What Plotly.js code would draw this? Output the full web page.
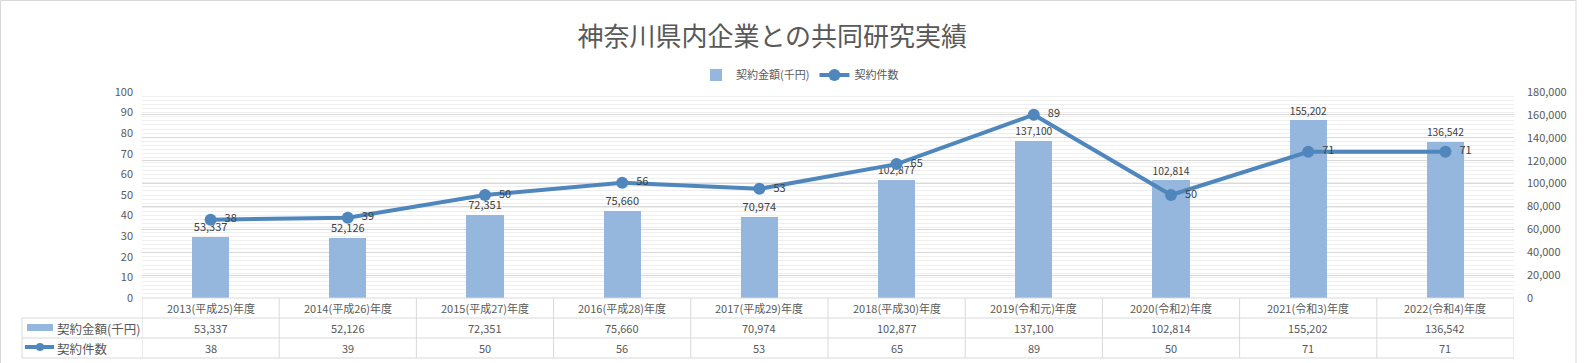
<!DOCTYPE html>
<html>
<head>
<meta charset="utf-8">
<script src="https://cdn.plot.ly/plotly-3.0.1.min.js"></script>
<style>html,body{margin:0;padding:0;background:#fff;}#chart{width:1589px;height:363px;}</style>
</head>
<body>
<div id="chart"></div>
<script>
var categories = ["2013(平成25)年度","2014(平成26)年度","2015(平成27)年度","2016(平成28)年度","2017(平成29)年度","2018(平成30)年度","2019(令和元)年度","2020(令和2)年度","2021(令和3)年度","2022(令和4)年度"];
var amountValues = [53337, 52126, 72351, 75660, 70974, 102877, 137100, 102814, 155202, 136542];
var countValues = [38, 39, 50, 56, 53, 65, 89, 50, 71, 71];
var amountName = "契約金額(千円)";
var countName = "契約件数";
var titleText = "神奈川県内企業との共同研究実績";

var FONT = "'Noto Sans CJK JP', 'Noto Sans', sans-serif";
var barColor = "#95b6dd";
var lineColor = "#4f87bd";
var gridColor = "#d9d9d9";
var textColor = "#404040";
var axisColor = "#595959";

function fmt(n){ return n.toLocaleString("en-US"); }

var idx = categories.map(function(_, i){ return i; });

var traces = [
  {
    type: "bar", name: amountName, x: idx, y: amountValues, yaxis: "y",
    marker: {color: barColor}, width: 0.27,
    text: amountValues.map(fmt), textposition: "outside", cliponaxis: false,
    textfont: {family: FONT, size: 11, color: textColor}
  },
  {
    type: "scatter", mode: "lines+markers+text", name: countName, x: idx, y: countValues, yaxis: "y2",
    line: {color: lineColor, width: 4}, marker: {color: lineColor, size: 12},
    text: countValues.map(function(v){ return "\u2002" + v; }), textposition: "middle right", cliponaxis: false,
    textfont: {family: FONT, size: 11, color: textColor}
  }
];

var L = 142, R = 1514, T = 92, B = 298;
function px(x){ return (x - L) / (R - L); }
function py(y){ return (B - y) / (B - T); }

var shapes = [];
var annotations = [];
var tableLine = {color: "#d9d9d9", width: 1};
shapes.push({type: "line", xref: "paper", yref: "paper", x0: 0, x1: 1, y0: py(298), y1: py(298), line: tableLine});
[318, 338, 358].forEach(function(yy){
  shapes.push({type: "line", xref: "paper", yref: "paper", x0: px(22), x1: 1, y0: py(yy), y1: py(yy), line: tableLine});
});
for (var i = 0; i <= categories.length; i++) {
  shapes.push({type: "line", xref: "x", yref: "paper", x0: i - 0.5, x1: i - 0.5, y0: py(298), y1: py(358), line: tableLine});
}
shapes.push({type: "line", xref: "paper", yref: "paper", x0: px(22), x1: px(22), y0: py(318), y1: py(358), line: tableLine});
shapes.push({type: "rect", xref: "paper", yref: "paper", x0: px(27), x1: px(53), y0: py(331), y1: py(324), fillcolor: barColor, line: {width: 0}});
shapes.push({type: "line", xref: "paper", yref: "paper", x0: px(25), x1: px(54), y0: py(347), y1: py(347), line: {color: lineColor, width: 4}});
shapes.push({type: "circle", xref: "paper", yref: "paper", x0: px(36), x1: px(44), y0: py(351), y1: py(343), fillcolor: lineColor, line: {width: 0}});
shapes.push({type: "rect", xref: "paper", yref: "paper", x0: px(0.5), x1: px(1576), y0: py(375), y1: py(0.5), line: {color: "#d9d9d9", width: 1}, layer: "below"});

for (var j = 0; j < categories.length; j++) {
  annotations.push({xref: "x", yref: "paper", x: j, y: py(308), text: categories[j], showarrow: false,
    font: {family: FONT, size: 11, color: axisColor}, xanchor: "center", yanchor: "middle"});
  annotations.push({xref: "x", yref: "paper", x: j, y: py(328), text: fmt(amountValues[j]), showarrow: false,
    font: {family: FONT, size: 11, color: axisColor}, xanchor: "center", yanchor: "middle"});
  annotations.push({xref: "x", yref: "paper", x: j, y: py(348), text: String(countValues[j]), showarrow: false,
    font: {family: FONT, size: 11, color: axisColor}, xanchor: "center", yanchor: "middle"});
}
annotations.push({xref: "paper", yref: "paper", x: px(55), y: py(328), text: amountName, showarrow: false,
  font: {family: FONT, size: 12.5, color: axisColor}, xanchor: "left", yanchor: "middle"});
annotations.push({xref: "paper", yref: "paper", x: px(55), y: py(348), text: countName, showarrow: false,
  font: {family: FONT, size: 12.5, color: axisColor}, xanchor: "left", yanchor: "middle"});

var layout = {
  width: 1589, height: 363,
  margin: {l: L, r: 1589 - R, t: T, b: 363 - B, pad: 0},
  paper_bgcolor: "#fff", plot_bgcolor: "#fff",
  font: {family: FONT, color: axisColor},
  title: {text: titleText, x: 0.486, xanchor: "center", xref: "container", y: 1 - 37/363, yanchor: "middle", yref: "container",
    font: {family: FONT, size: 26, color: axisColor}},
  showlegend: true,
  legend: {orientation: "h", x: px(800), xanchor: "center", y: py(75), yanchor: "middle",
    font: {family: FONT, size: 11, color: axisColor}, itemwidth: 30, traceorder: "normal"},
  bargap: 0,
  xaxis: {range: [-0.5, categories.length - 0.5], showticklabels: false, showgrid: false, zeroline: false,
    tickmode: "array", tickvals: idx, ticks: "", fixedrange: true},
  yaxis: {range: [0, 180000], dtick: 20000, tick0: 0, side: "right", showgrid: true, gridcolor: gridColor, gridwidth: 1, zeroline: false,
    tickformat: ",d", tickfont: {family: FONT, size: 11, color: axisColor}, ticks: "", ticklabelstandoff: 12,
    minor: {dtick: 3600, showgrid: true, gridcolor: "#efefef", gridwidth: 1}},
  yaxis2: {range: [0, 100], dtick: 10, tick0: 0, overlaying: "y", side: "left", showgrid: false, zeroline: false,
    tickfont: {family: FONT, size: 11, color: axisColor}, ticks: "", ticklabelstandoff: 8},
  shapes: shapes,
  annotations: annotations
};

Plotly.newPlot("chart", traces, layout, {displayModeBar: false, staticPlot: true});
</script>
</body>
</html>
